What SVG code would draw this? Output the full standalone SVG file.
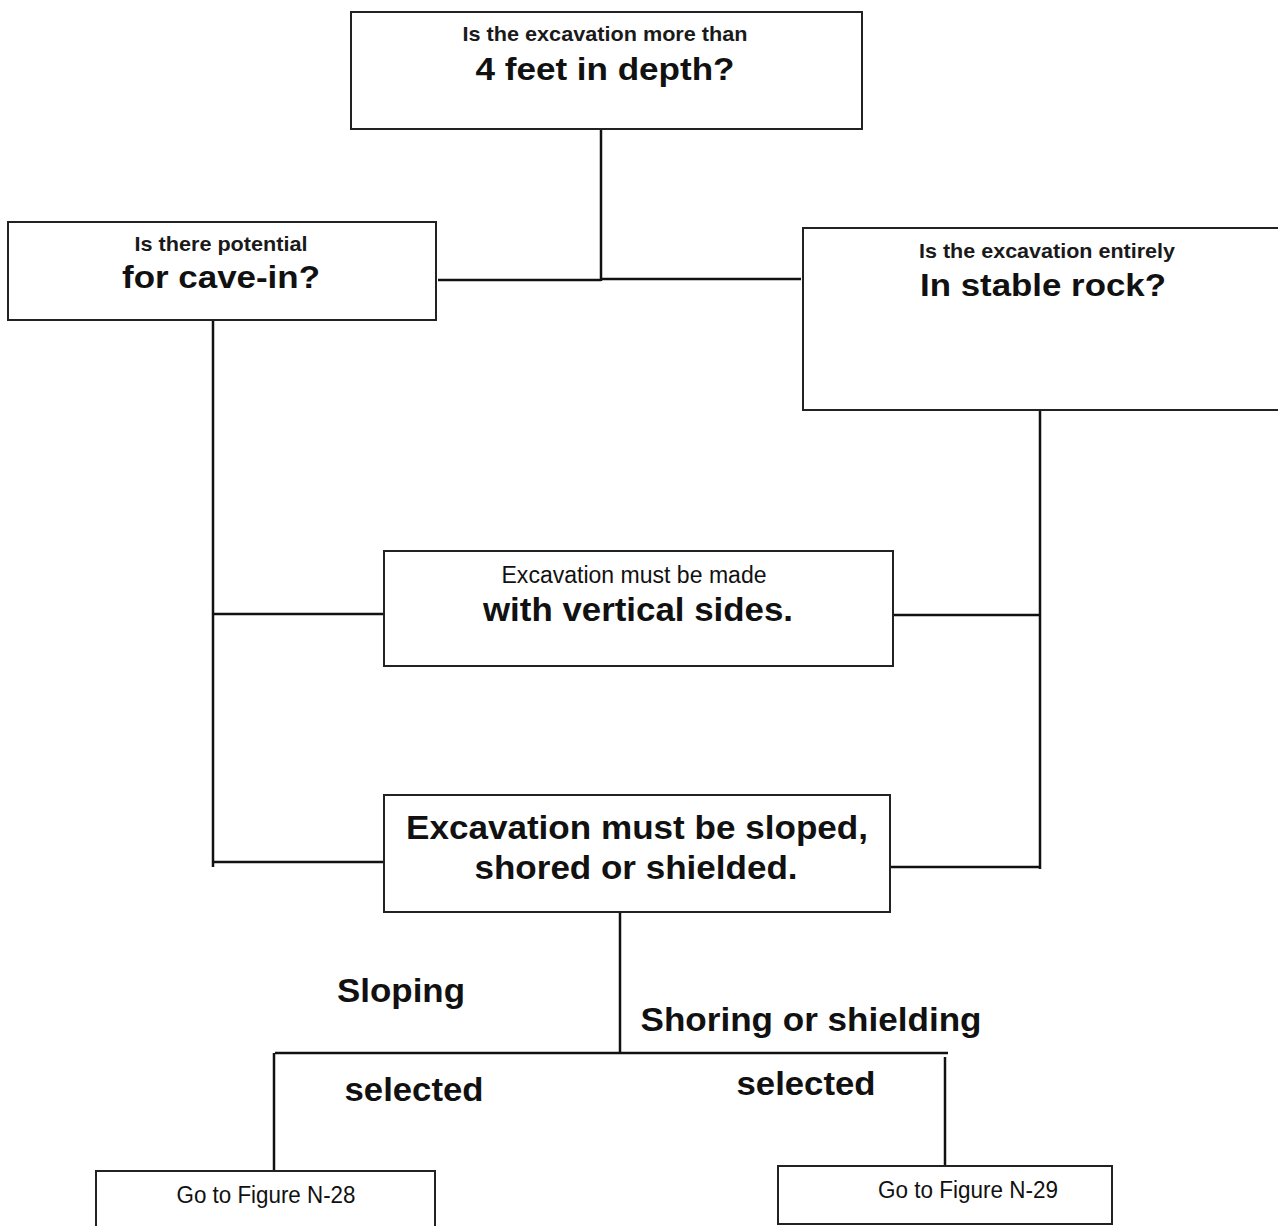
<svg xmlns="http://www.w3.org/2000/svg" width="1278" height="1226" viewBox="0 0 1278 1226">
<style>
.box{fill:#fff;stroke:#222;stroke-width:2}
.ln{stroke:#111;stroke-width:2.5;fill:none}
text{font-family:"Liberation Sans",Arial,sans-serif;fill:#111;text-anchor:middle}
.s{font-size:21px;font-weight:bold;fill:#1a1a1a}
.b{font-size:32px;font-weight:bold}
.n{font-size:23px}
.nb{font-size:34px;font-weight:bold}
.lb{font-size:34px;font-weight:bold}
</style>
<rect width="1278" height="1226" fill="#fff"/>
<g id="connectors">
<path class="ln" d="M601,129 V281"/>
<path class="ln" d="M438,280 H601 M601,279 H801"/>
<path class="ln" d="M213,320 V867"/>
<path class="ln" d="M1040,410 V869"/>
<path class="ln" d="M213,614 H384"/>
<path class="ln" d="M893,615 H1040"/>
<path class="ln" d="M213,862 H384"/>
<path class="ln" d="M890,867 H1040"/>
<path class="ln" d="M620,910 V1054"/>
<path class="ln" d="M275,1053 H948"/>
<path class="ln" d="M274,1053 V1170"/>
<path class="ln" d="M945,1057 V1165"/>
</g>
<g id="n1">
<rect class="box" x="351" y="12" width="511" height="117"/>
<text class="s" x="605" y="41" textLength="285" lengthAdjust="spacingAndGlyphs">Is the excavation more than</text>
<text class="b" x="605" y="80" textLength="259" lengthAdjust="spacingAndGlyphs">4 feet in depth?</text>
</g>
<g id="n2">
<rect class="box" x="8" y="222" width="428" height="98"/>
<text class="s" x="221" y="251" textLength="173" lengthAdjust="spacingAndGlyphs">Is there potential</text>
<text class="b" x="221" y="288" textLength="198" lengthAdjust="spacingAndGlyphs">for cave-in?</text>
</g>
<g id="n3">
<rect class="box" x="803" y="228" width="480" height="182"/>
<text class="s" x="1047" y="258" textLength="256" lengthAdjust="spacingAndGlyphs">Is the excavation entirely</text>
<text class="b" x="1043" y="296" textLength="246" lengthAdjust="spacingAndGlyphs">In stable rock?</text>
</g>
<g id="n4">
<rect class="box" x="384" y="551" width="509" height="115"/>
<text class="n" x="634" y="583" textLength="265" lengthAdjust="spacingAndGlyphs">Excavation must be made</text>
<text class="nb" x="638" y="621" textLength="310" lengthAdjust="spacingAndGlyphs">with vertical sides.</text>
</g>
<g id="n5">
<rect class="box" x="384" y="795" width="506" height="117"/>
<text class="nb" x="637" y="839" textLength="462" lengthAdjust="spacingAndGlyphs">Excavation must be sloped,</text>
<text class="nb" x="636" y="879" textLength="323" lengthAdjust="spacingAndGlyphs">shored or shielded.</text>
</g>
<g id="labels">
<text class="lb" x="401" y="1002" textLength="128" lengthAdjust="spacingAndGlyphs">Sloping</text>
<text class="lb" x="811" y="1031" textLength="341" lengthAdjust="spacingAndGlyphs">Shoring or shielding</text>
<text class="lb" x="414" y="1101" textLength="139" lengthAdjust="spacingAndGlyphs">selected</text>
<text class="lb" x="806" y="1095" textLength="139" lengthAdjust="spacingAndGlyphs">selected</text>
</g>
<g id="n6">
<rect class="box" x="96" y="1171" width="339" height="70"/>
<text class="n" x="266" y="1203" textLength="179" lengthAdjust="spacingAndGlyphs">Go to Figure N-28</text>
</g>
<g id="n7">
<rect class="box" x="778" y="1166" width="334" height="58"/>
<text class="n" x="968" y="1198" textLength="180" lengthAdjust="spacingAndGlyphs">Go to Figure N-29</text>
</g>
</svg>
